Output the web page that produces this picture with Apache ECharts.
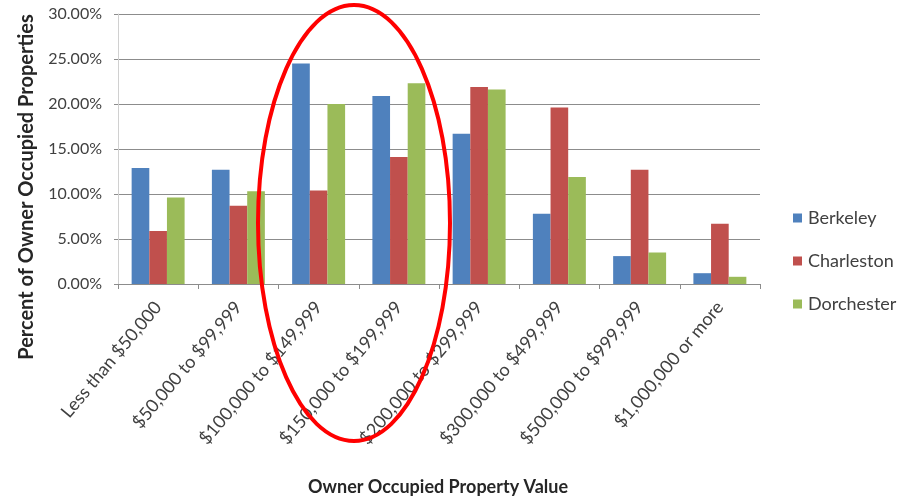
<!DOCTYPE html>
<html>
<head>
<meta charset="utf-8">
<script src="https://cdn.jsdelivr.net/npm/echarts@6/dist/echarts.min.js"></script>
<style>
  html, body { margin: 0; padding: 0; background: #fff; }
  #chart { width: 900px; height: 501px; }
</style>
</head>
<body>
<div id="chart"></div>
<script>
// Share of owner-occupied homes by property value band, per county (%)
const categories = [
  'Less than $50,000', '$50,000 to $99,999', '$100,000 to $149,999',
  '$150,000 to $199,999', '$200,000 to $299,999', '$300,000 to $499,999',
  '$500,000 to $999,999', '$1,000,000 or more'
];
const berkeley   = [12.9, 12.7, 24.5, 20.9, 16.7, 7.8, 3.1, 1.2];
const charleston = [5.9, 8.7, 10.4, 14.1, 21.9, 19.6, 12.7, 6.7];
const dorchester = [9.6, 10.3, 20.0, 22.3, 21.6, 11.9, 3.5, 0.8];
const seriesNames = ['Berkeley', 'Charleston', 'Dorchester'];
const yTicks = { min: 0, max: 30, step: 5 };

const FONT = 'Lato';
const chart = echarts.init(document.getElementById('chart'));

const bar = (name, data, color) => ({
  name, type: 'bar', data,
  barGap: '0%', barCategoryGap: '34%',
  itemStyle: { color },
  emphasis: { disabled: true }
});

chart.setOption({
  animation: false,
  backgroundColor: '#ffffff',
  grid: { left: 118, right: 140, top: 14, bottom: 217 },
  legend: {
    orient: 'vertical',
    left: 788, top: 204,
    itemWidth: 9, itemHeight: 9, itemGap: 25,
    icon: 'rect',
    textStyle: { fontFamily: FONT, fontSize: 18, color: '#404040', padding: [0, 0, 0, 1] },
    data: seriesNames
  },
  xAxis: {
    type: 'category',
    data: categories,
    axisLine: { lineStyle: { color: '#8c8c8c', width: 1 } },
    axisTick: { show: true, length: 5, lineStyle: { color: '#8c8c8c' } },
    axisLabel: {
      interval: 0, rotate: 50, margin: 20,
      fontFamily: FONT, fontSize: 18, color: '#404040'
    },
    splitLine: { show: false }
  },
  yAxis: {
    type: 'value',
    min: yTicks.min, max: yTicks.max, interval: yTicks.step,
    axisLine: { show: true, lineStyle: { color: '#d0d0d0' } },
    axisTick: { show: true, length: 4, lineStyle: { color: '#8c8c8c' } },
    axisLabel: {
      margin: 16, fontFamily: FONT, fontSize: 16, color: '#404040',
      formatter: v => v.toFixed(2) + '%'
    },
    splitLine: { lineStyle: { color: '#8c8c8c', width: 1 } }
  },
  series: [
    bar(seriesNames[0], berkeley, '#4f81bd'),
    bar(seriesNames[1], charleston, '#c0504d'),
    bar(seriesNames[2], dorchester, '#9bbb59')
  ],
  graphic: [
    {
      type: 'text',
      x: 27, y: 187, z: 10,
      rotation: Math.PI / 2,
      style: {
        text: 'Percent of Owner Occupied Properties',
        fontFamily: FONT, fontSize: 20, fontWeight: 'bold', fill: '#262626',
        align: 'center', verticalAlign: 'middle'
      }
    },
    {
      type: 'text',
      x: 438, y: 487, z: 10,
      style: {
        text: 'Owner Occupied Property Value',
        fontFamily: FONT, fontSize: 18, fontWeight: 'bold', fill: '#262626',
        align: 'center', verticalAlign: 'middle'
      }
    },
    {
      type: 'ellipse',
      z: 20,
      shape: { cx: 354, cy: 223, rx: 96, ry: 218 },
      style: { fill: 'none', stroke: '#ff0000', lineWidth: 4 }
    }
  ]
});
</script>
</body>
</html>
